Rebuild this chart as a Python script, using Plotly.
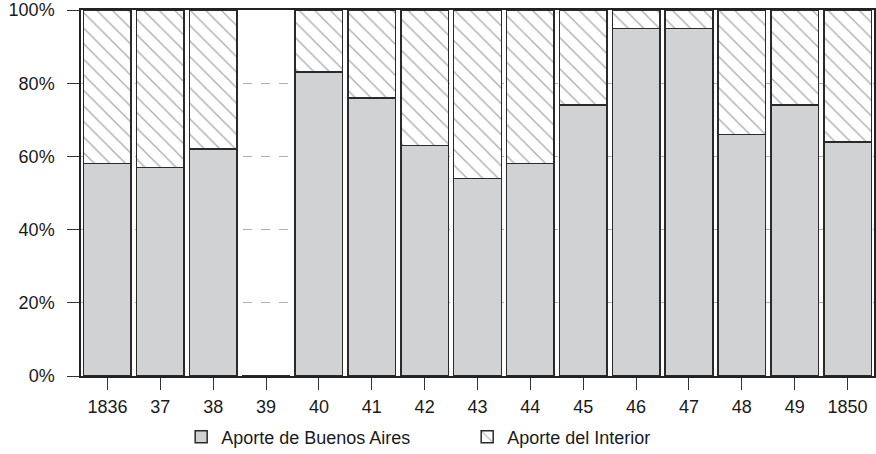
import plotly.graph_objects as go

years = ["1836", "37", "38", "39", "40", "41", "42", "43", "44", "45", "46", "47", "48", "49", "1850"]
buenos_aires = [58, 57, 62, 0, 83, 76, 63, 54, 58, 74, 95, 95, 66, 74, 64]
interior = [42, 43, 38, 0, 17, 24, 37, 46, 42, 26, 5, 5, 34, 26, 36]
y_ticks = [0, 20, 40, 60, 80, 100]
y_labels = ["0%", "20%", "40%", "60%", "80%", "100%"]

FONT = "Liberation Sans, Arial, Helvetica, sans-serif"

fig = go.Figure()
fig.add_trace(go.Bar(
    x=years, y=buenos_aires, name="Aporte de Buenos Aires",
    marker=dict(color="#d1d2d4", line=dict(color="#2a2a2a", width=1.5)),
    width=0.9,
))
fig.add_trace(go.Bar(
    x=years, y=interior, name="Aporte del Interior",
    marker=dict(color="white", line=dict(color="#2a2a2a", width=1.5),
                pattern=dict(shape="\\", fgcolor="#555555", bgcolor="white",
                             size=11, solidity=0.12)),
    width=0.9,
))

fig.update_layout(
    barmode="stack",
    width=876, height=454,
    margin=dict(l=81, r=2, t=10, b=78, autoexpand=False),
    paper_bgcolor="white", plot_bgcolor="white",
    font=dict(family=FONT, size=18, color="#1a1a1a"),
    showlegend=True,
    legend=dict(orientation="h", x=0.487, xanchor="center",
                yref="container", y=0.078, yanchor="top",
                font=dict(size=18), entrywidth=241, entrywidthmode="pixels",
                traceorder="normal", itemwidth=30),
)
fig.update_xaxes(
    type="category", showgrid=False, ticks="outside", ticklen=12, tickcolor="#333",
    showline=True, linecolor="#222", linewidth=1.5, mirror=True,
    ticklabelstandoff=2, automargin=False,
)
fig.update_yaxes(
    range=[0, 100], tickvals=y_ticks, ticktext=y_labels,
    ticks="outside", ticklen=12, tickcolor="#333",
    showgrid=True, gridcolor="#b0b0b0", griddash="dash", gridwidth=1,
    showline=True, linecolor="#222", linewidth=1.5, mirror=True,
    zeroline=False, ticklabelstandoff=9, automargin=False,
)

fig.write_html("out.html", config={"displayModeBar": False},
               post_script="document.body.style.margin='0';")
